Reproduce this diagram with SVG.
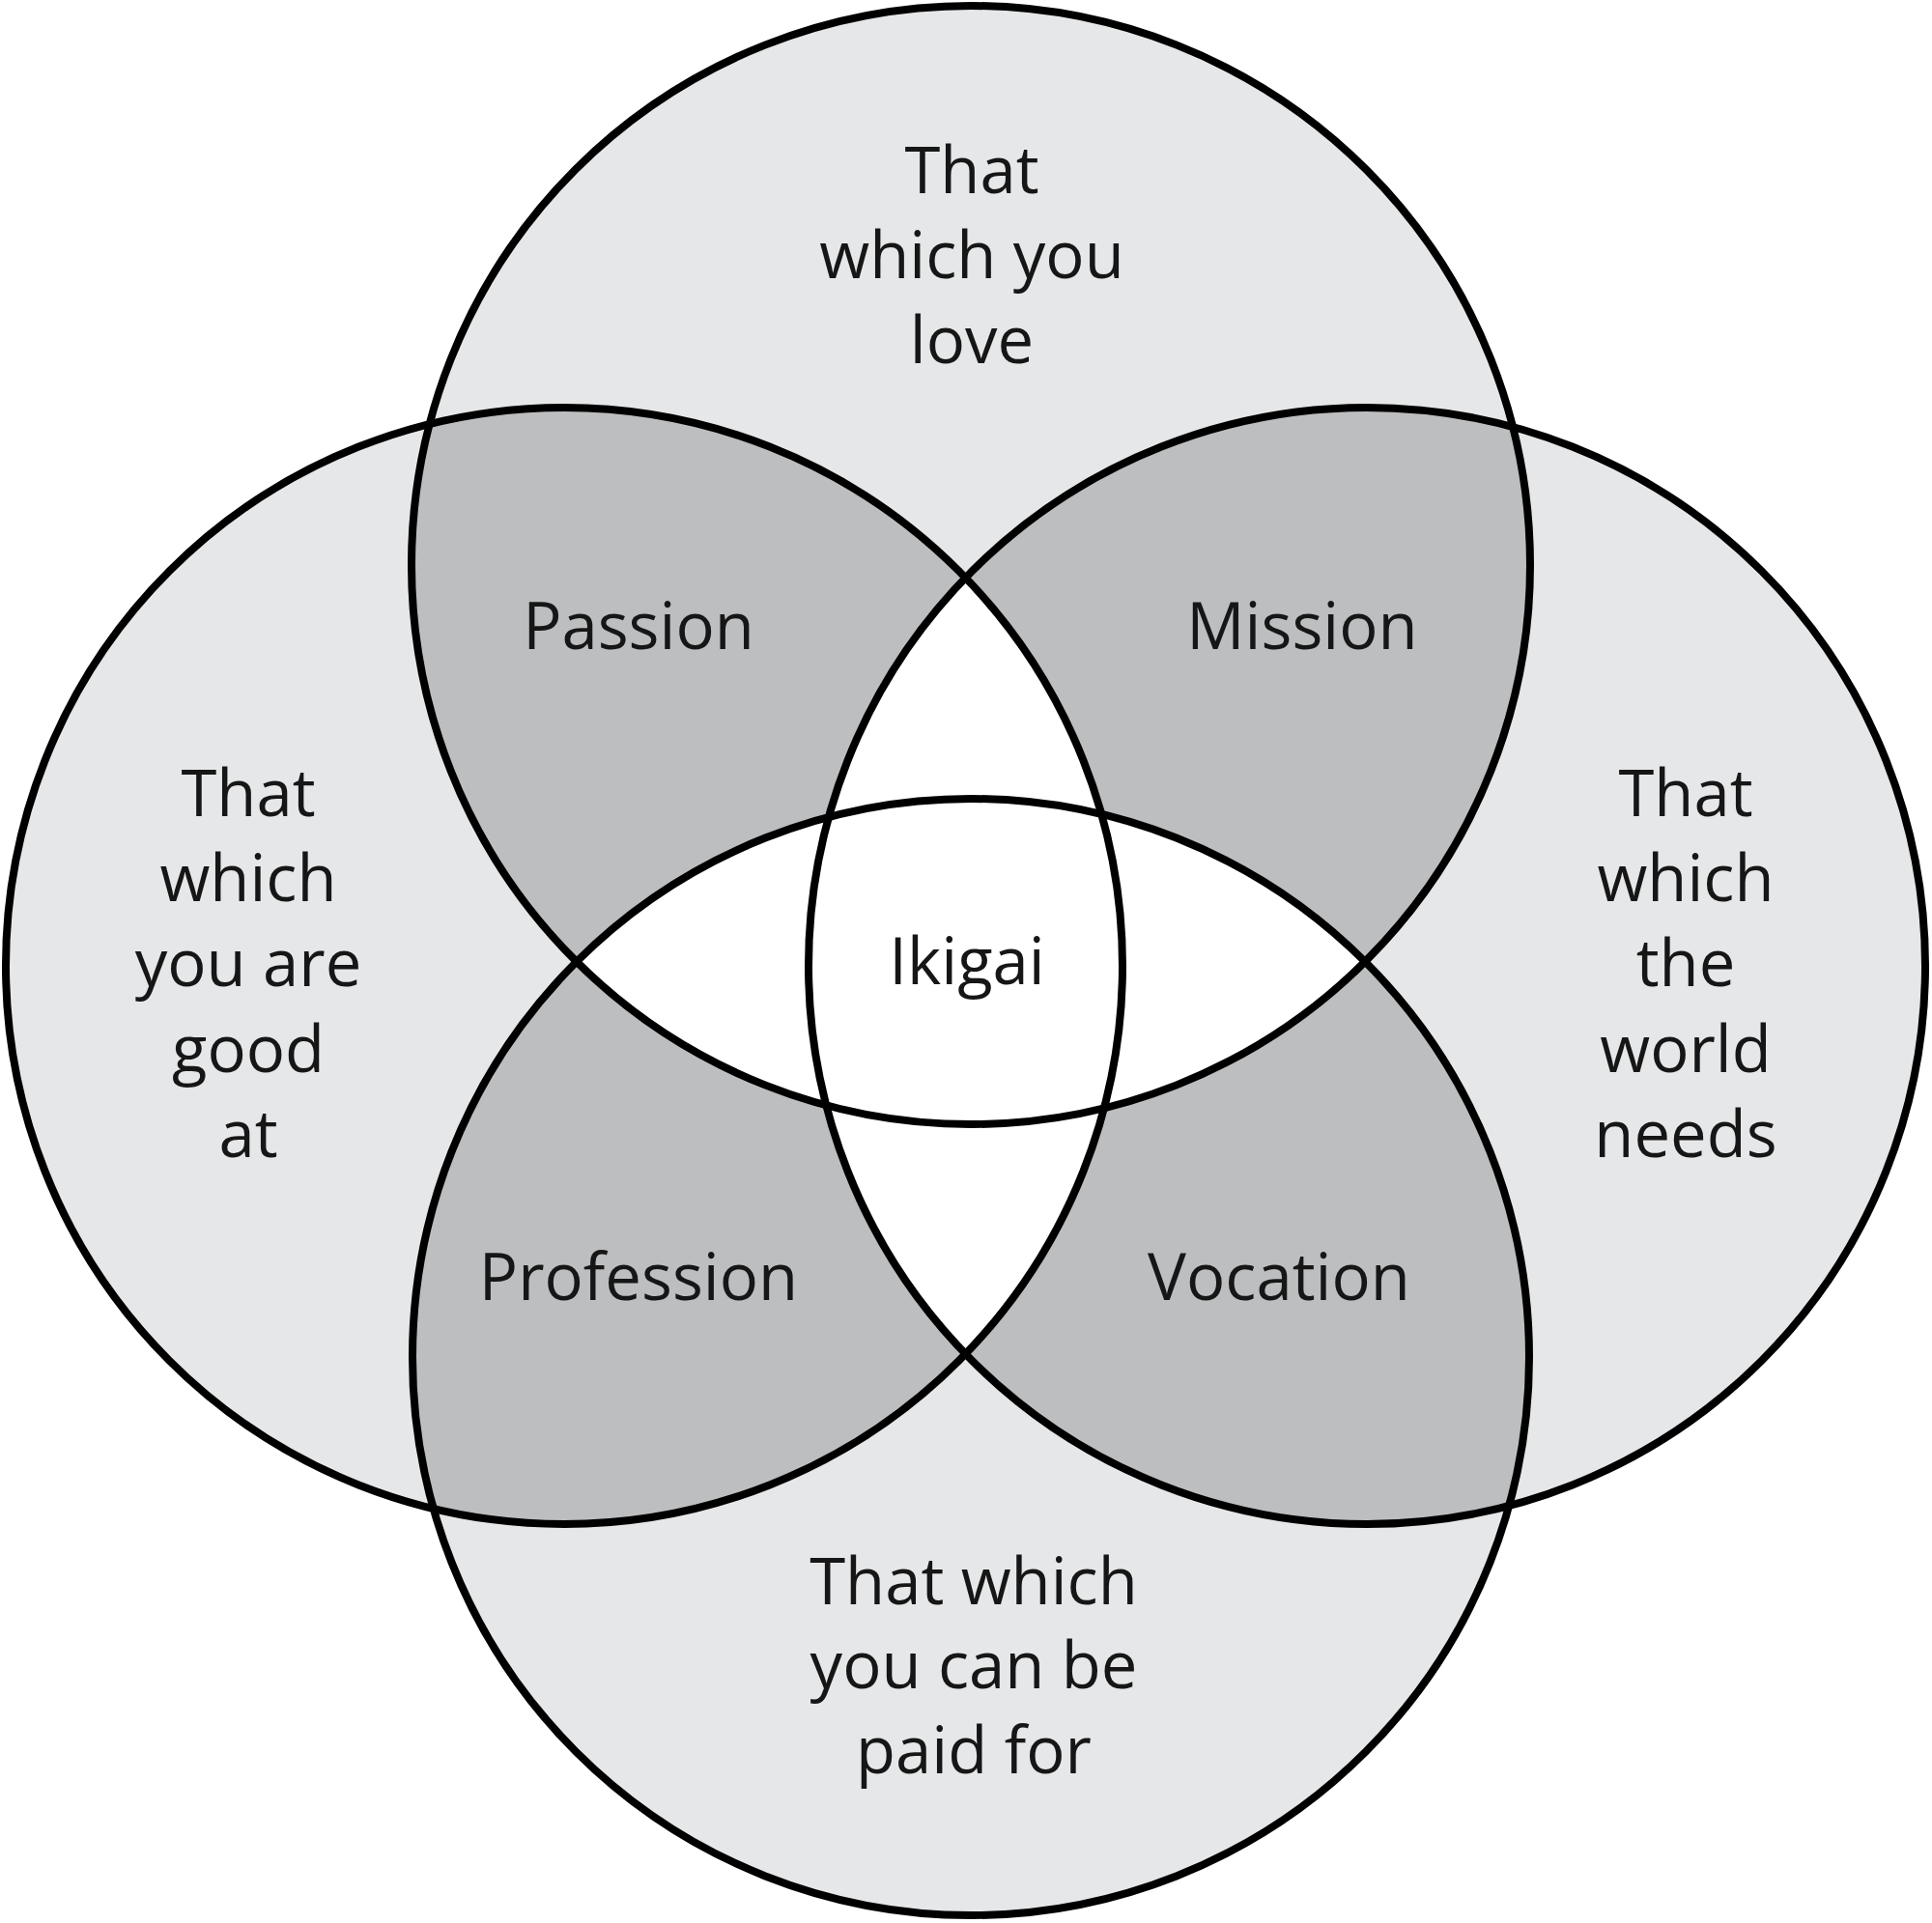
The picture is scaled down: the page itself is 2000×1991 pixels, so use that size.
<svg xmlns="http://www.w3.org/2000/svg" width="2000" height="1991" viewBox="0 0 2000 1991">
<style>
.c{fill:#e6e7e8}
.o{fill:#bcbec0}
.w{fill:#ffffff}
.s{fill:none;stroke:#000;stroke-width:8}
text{font-family:"Open Sans","Noto Sans",sans-serif;font-size:67px;fill:#161616;text-anchor:middle}
</style>
<defs>
<clipPath id="kT"><circle cx="1005" cy="585" r="579"/></clipPath>
<clipPath id="kL"><circle cx="584" cy="1000" r="578"/></clipPath>
<clipPath id="kR"><circle cx="1415" cy="1000" r="578"/></clipPath>
<clipPath id="kB"><circle cx="1005" cy="1405" r="578"/></clipPath>
</defs>
<rect width="2000" height="1991" fill="#ffffff"/>
<g id="fills">
<circle class="c" cx="1005" cy="585" r="579"/>
<circle class="c" cx="584" cy="1000" r="578"/>
<circle class="c" cx="1415" cy="1000" r="578"/>
<circle class="c" cx="1005" cy="1405" r="578"/>
</g>
<g id="overlaps">
<circle class="o" cx="584" cy="1000" r="578" clip-path="url(#kT)"/>
<circle class="o" cx="1415" cy="1000" r="578" clip-path="url(#kT)"/>
<circle class="o" cx="584" cy="1000" r="578" clip-path="url(#kB)"/>
<circle class="o" cx="1415" cy="1000" r="578" clip-path="url(#kB)"/>
<circle class="o" cx="1005" cy="1405" r="578" clip-path="url(#kT)"/>
<circle class="o" cx="1415" cy="1000" r="578" clip-path="url(#kL)"/>
</g>
<g id="triples">
<g clip-path="url(#kT)"><circle class="w" cx="584" cy="1000" r="578" clip-path="url(#kR)"/></g>
<g clip-path="url(#kT)"><circle class="w" cx="584" cy="1000" r="578" clip-path="url(#kB)"/></g>
<g clip-path="url(#kT)"><circle class="w" cx="1415" cy="1000" r="578" clip-path="url(#kB)"/></g>
<g clip-path="url(#kL)"><circle class="w" cx="1415" cy="1000" r="578" clip-path="url(#kB)"/></g>
</g>
<g id="circle-love"><circle class="s" cx="1005" cy="585" r="579"/>
<text x="1006" y="200">That</text><text x="1006" y="288">which you</text><text x="1006" y="376">love</text></g>
<g id="circle-good"><circle class="s" cx="584" cy="1000" r="578"/>
<text x="257" y="845">That</text><text x="257" y="933">which</text><text x="257" y="1021">you are</text><text x="257" y="1110">good</text><text x="257" y="1198">at</text></g>
<g id="circle-world"><circle class="s" cx="1415" cy="1000" r="578"/>
<text x="1745" y="845">That</text><text x="1745" y="933">which</text><text x="1745" y="1021">the</text><text x="1745" y="1110">world</text><text x="1745" y="1198">needs</text></g>
<g id="circle-paid"><circle class="s" cx="1005" cy="1405" r="578"/>
<text x="1008" y="1661">That which</text><text x="1008" y="1748">you can be</text><text x="1008" y="1836">paid for</text></g>
<g id="passion"><text x="661" y="672">Passion</text></g>
<g id="mission"><text x="1348" y="672">Mission</text></g>
<g id="profession"><text x="661" y="1346">Profession</text></g>
<g id="vocation"><text x="1324" y="1346">Vocation</text></g>
<g id="ikigai"><text x="1001" y="1019">Ikigai</text></g>
</svg>
